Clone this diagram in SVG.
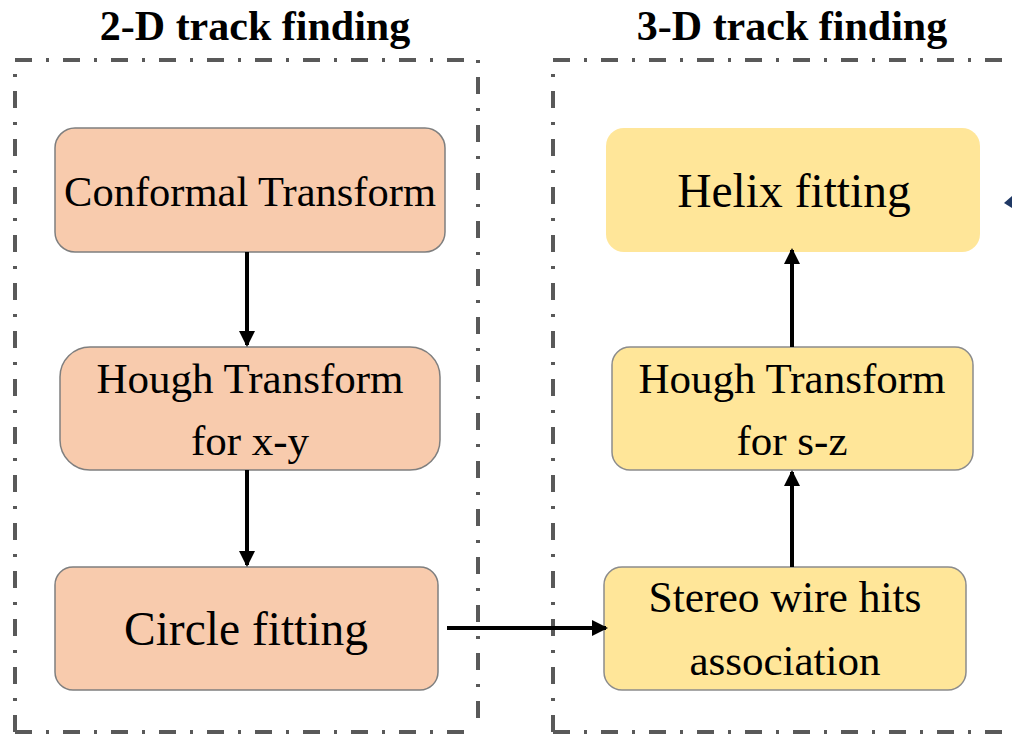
<svg xmlns="http://www.w3.org/2000/svg" width="1012" height="734" viewBox="0 0 1012 734">
<style>
.frame{fill:none;stroke:#595959;stroke-width:4;stroke-dasharray:17 14 3 14}
.title{font-family:"Liberation Serif","DejaVu Serif",serif;font-weight:bold;font-size:42px;fill:#000;text-anchor:middle}
.lbl{font-family:"Liberation Serif","DejaVu Serif",serif;fill:#000;text-anchor:middle}
.orange{fill:#F8CBAD;stroke:#7F7F7F;stroke-width:1.5}
.yellow{fill:#FFE699;stroke:#8C8C8C;stroke-width:1.5}
.conn{stroke:#000;stroke-width:4;fill:none;marker-end:url(#ah)}
</style>
<defs>
<marker id="ah" markerUnits="userSpaceOnUse" markerWidth="16" markerHeight="16" viewBox="0 0 16 16" refX="14" refY="8" orient="auto">
<path d="M0,0 L16,8 L0,16 Z" fill="#000"/>
</marker>
</defs>
<rect width="1012" height="734" fill="#fff"/>
<g id="frame-2d">
<path class="frame" d="M15,732 L15,60 L478,60 L478,732"/>
<path class="frame" d="M15,732 L478,732"/>
<text class="title" x="255" y="40">2-D track finding</text>
</g>
<g id="frame-3d">
<path class="frame" d="M553,732 L553,60 L1020,60"/>
<path class="frame" d="M553,732 L1020,732"/>
<text class="title" x="792" y="40">3-D track finding</text>
</g>
<g id="conformal">
<rect class="orange" x="55" y="128" width="390" height="124" rx="20"/>
<text class="lbl" x="250" y="206" font-size="42.5">Conformal Transform</text>
</g>
<g id="hough-xy">
<rect class="orange" x="60" y="347" width="380" height="123" rx="30"/>
<text class="lbl" x="250" y="393" font-size="43">Hough Transform</text>
<text class="lbl" x="250" y="455" font-size="43">for x-y</text>
</g>
<g id="circle">
<rect class="orange" x="55" y="567" width="383" height="123" rx="18"/>
<text class="lbl" x="246" y="645" font-size="47.5">Circle fitting</text>
</g>
<g id="helix">
<rect x="606" y="128" width="374" height="124" rx="18" fill="#FFE699"/>
<text class="lbl" x="794" y="207" font-size="47.5">Helix fitting</text>
</g>
<g id="hough-sz">
<rect class="yellow" x="612" y="347" width="361" height="123" rx="18"/>
<text class="lbl" x="792" y="393" font-size="43">Hough Transform</text>
<text class="lbl" x="792" y="455" font-size="43">for s-z</text>
</g>
<g id="stereo">
<rect class="yellow" x="604" y="567" width="362" height="123" rx="18"/>
<text class="lbl" x="785" y="612" font-size="43.5">Stereo wire hits</text>
<text class="lbl" x="785" y="675" font-size="43">association</text>
</g>
<g id="connectors">
<line class="conn" x1="247" y1="252" x2="247" y2="345"/>
<line class="conn" x1="247" y1="470" x2="247" y2="565"/>
<line class="conn" x1="447" y1="628" x2="606" y2="628"/>
<line class="conn" x1="792" y1="567" x2="792" y2="472"/>
<line class="conn" x1="792" y1="347" x2="792" y2="250"/>
<path d="M1004,203 L1012,196 L1012,208 Z" fill="#1F3864"/>
</g>
</svg>
